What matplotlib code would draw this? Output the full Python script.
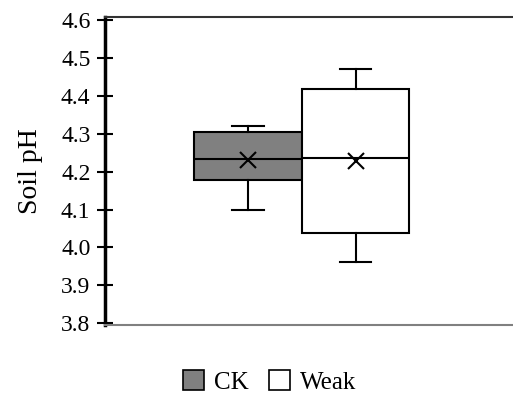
import matplotlib
matplotlib.use('Agg')
import matplotlib.pyplot as plt
from matplotlib.patches import Patch

# box statistics
groups = ['CK', 'Weak']
whislo = [4.10, 3.962]
q1 = [4.177, 4.037]
med = [4.232, 4.237]
q3 = [4.305, 4.418]
whishi = [4.320, 4.471]
means = [4.230, 4.227]
colors = ['#808080', 'white']

yticks = [3.8, 3.9, 4.0, 4.1, 4.2, 4.3, 4.4, 4.5, 4.6]

plt.rcParams['font.family'] = ['Liberation Serif', 'DejaVu Serif']

fig = plt.figure(figsize=(5.13, 3.94), dpi=100)
ax = fig.add_axes([0.2047, 0.1751, 0.7953, 0.7811])

stats = []
for i in range(len(groups)):
    stats.append({'label': groups[i], 'whislo': whislo[i], 'q1': q1[i], 'med': med[i],
                  'q3': q3[i], 'whishi': whishi[i], 'mean': means[i], 'fliers': []})

bp = ax.bxp(stats, positions=[1, 2], widths=1.0, patch_artist=True, showmeans=True,
            capwidths=0.29,
            meanprops=dict(marker='x', markersize=12, markeredgecolor='black', markeredgewidth=1.5),
            medianprops=dict(color='black', linewidth=1.5),
            whiskerprops=dict(color='black', linewidth=1.5),
            capprops=dict(color='black', linewidth=1.5),
            boxprops=dict(edgecolor='black', linewidth=1.5))
for box, c in zip(bp['boxes'], colors):
    box.set_facecolor(c)

ax.set_xlim(-0.33, 3.465)
ax.set_ylim(3.7955, 4.607)
ax.set_xticks([])
ax.set_yticks(yticks)
ax.set_yticklabels(['%.1f' % v for v in yticks], fontsize=17)
ax.tick_params(axis='y', direction='inout', length=11, width=1.5, pad=5)
ax.set_ylabel('Soil pH', fontsize=20, labelpad=13)

ax.spines['right'].set_visible(False)
ax.spines['left'].set_linewidth(2.5)
ax.spines['top'].set_linewidth(1.5)
ax.spines['top'].set_color('#333333')
ax.spines['bottom'].set_linewidth(1.5)
ax.spines['bottom'].set_color('#808080')

handles = [Patch(facecolor=c, edgecolor='black', linewidth=1.2, label=g) for g, c in zip(groups, colors)]
fig.legend(handles=handles, loc='center', bbox_to_anchor=(0.525, 0.03), ncol=2, frameon=False,
           fontsize=18, handlelength=0.85, handleheight=0.85, handletextpad=0.4, columnspacing=0.8)

fig.savefig('out.png', dpi=100)
